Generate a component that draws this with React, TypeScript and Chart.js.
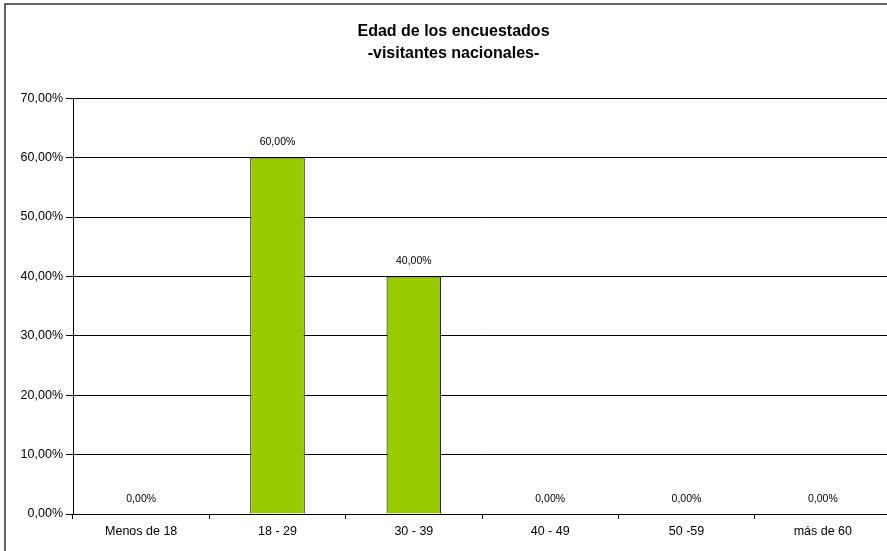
import React, { useEffect, useRef } from "react";
import { Chart, registerables } from "chart.js";

Chart.register(...registerables);

const categories = ["Menos de 18", "18 - 29", "30 - 39", "40 - 49", "50 -59", "más de 60"];
const values = [0, 60, 40, 0, 0, 0];
const titleLines = ["Edad de los encuestados", "-visitantes nacionales-"];
const yMin = 0;
const yMax = 70;
const yStep = 10;

const FONT = "'Liberation Sans', Arial, sans-serif";
const fmt = (v: number) => v.toFixed(2).replace(".", ",") + "%";

const frame = {
  id: "frame",
  beforeDraw(chart: any) {
    const ctx = chart.ctx;
    ctx.save();
    ctx.fillStyle = "#fff";
    ctx.fillRect(0, 0, chart.width, chart.height);
    ctx.strokeStyle = "#333";
    ctx.lineWidth = 1.5;
    ctx.beginPath();
    ctx.moveTo(5, chart.height + 10);
    ctx.lineTo(5, 4);
    ctx.lineTo(chart.width + 10, 4);
    ctx.stroke();
    ctx.restore();
  },
};

const labels = {
  id: "valueLabels",
  afterDatasetsDraw(chart: any) {
    const ctx = chart.ctx;
    ctx.save();
    ctx.font = `10.5px ${FONT}`;
    ctx.fillStyle = "#000";
    ctx.textAlign = "center";
    ctx.textBaseline = "middle";
    const meta = chart.getDatasetMeta(0);
    meta.data.forEach((el: any, i: number) => {
      ctx.fillText(fmt(values[i]), el.x, el.y - 15);
    });
    ctx.restore();
  },
};

export default function App() {
  const ref = useRef<HTMLCanvasElement>(null);
  useEffect(() => {
    const chart = new Chart(ref.current!, {
      type: "bar",
      data: {
        labels: categories,
        datasets: [
          {
            data: values,
            backgroundColor: "#99CC00",
            borderColor: "#000",
            borderWidth: 1,
            categoryPercentage: 1,
            barPercentage: 0.4,
          },
        ],
      },
      options: {
        responsive: false,
        animation: false,
        devicePixelRatio: 1,
        layout: { padding: { left: 16, right: 4, top: 0, bottom: 0 } },
        plugins: {
          legend: { display: false },
          tooltip: { enabled: false },
          title: {
            display: true,
            text: titleLines,
            color: "#000",
            font: { family: FONT, size: 16, weight: "bold", lineHeight: 1.35 },
            padding: { top: 21, bottom: 34 },
          },
        },
        scales: {
          x: {
            afterFit: (s: any) => {
              s.height = 37;
            },
            grid: { display: true, drawOnChartArea: false, color: "#000", tickLength: 5, offset: true },
            border: { color: "#000", width: 1 },
            ticks: { color: "#000", font: { family: FONT, size: 12.5 }, padding: 5 },
          },
          y: {
            min: yMin,
            max: yMax,
            afterFit: (s: any) => {
              s.width = 57;
            },
            grid: { color: "#000", lineWidth: 1, tickLength: 7 },
            border: { color: "#000", width: 1 },
            ticks: {
              stepSize: yStep,
              color: "#000",
              padding: 3,
              font: { family: FONT, size: 12.5 },
              callback: (v: any) => fmt(Number(v)),
            },
          },
        },
      },
      plugins: [frame, labels],
    });
    return () => chart.destroy();
  }, []);
  return (
    <div style={{ position: "absolute", left: 0, top: 0, width: 887, height: 551, overflow: "hidden", background: "#fff" }}>
      <canvas ref={ref} width={895} height={551} style={{ width: 895, height: 551, display: "block" }} />
    </div>
  );
}
